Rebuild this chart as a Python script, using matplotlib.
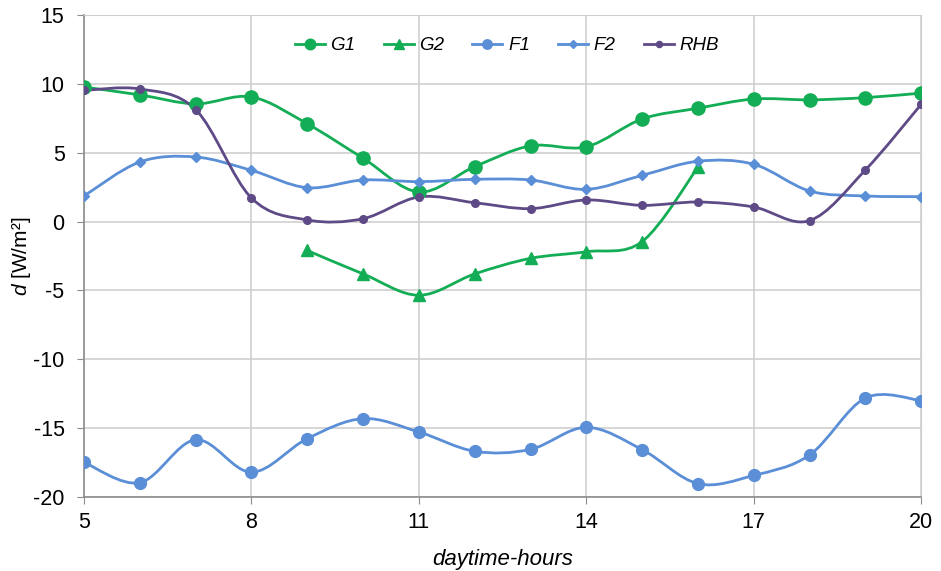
import numpy as np
import matplotlib
matplotlib.use('Agg')
import matplotlib.pyplot as plt
from matplotlib.path import Path
from matplotlib.patches import PathPatch
from matplotlib.lines import Line2D

plt.rcParams['font.family'] = ['Liberation Sans', 'DejaVu Sans']
plt.rcParams['mathtext.fontset'] = 'custom'
plt.rcParams['mathtext.it'] = 'Liberation Sans:italic'
plt.rcParams['mathtext.rm'] = 'Liberation Sans'
plt.rcParams['axes.unicode_minus'] = False

hours = [5, 6, 7, 8, 9, 10, 11, 12, 13, 14, 15, 16, 17, 18, 19, 20]
g1 = [9.77, 9.2, 8.55, 9.05, 7.1, 4.6, 2.15, 3.99, 5.5, 5.43, 7.45, 8.23, 8.9, 8.84, 9.0, 9.33]
g2_hours = [9, 10, 11, 12, 13, 14, 15, 16]
g2 = [-2.1, -3.8, -5.35, -3.8, -2.67, -2.19, -1.45, 3.95]
f1 = [-17.48, -18.96, -15.84, -18.2, -15.76, -14.31, -15.28, -16.68,
      -16.54, -14.94, -16.56, -19.03, -18.43, -16.95, -12.81, -13.0]
f2 = [1.86, 4.33, 4.69, 3.72, 2.46, 3.02, 2.9, 3.07, 3.02, 2.34, 3.36, 4.38, 4.16, 2.22, 1.86, 1.81]
rhb = [9.53, 9.63, 8.13, 1.71, 0.12, 0.21, 1.79, 1.37, 0.94, 1.57, 1.18, 1.42, 1.06, 0.07, 3.75, 8.52]

GREEN = '#13AD55'
BLUE = '#5A8ED6'
PURPLE = '#5E4A86'


def smooth_path(x, y):
    # excel-style smoothed line: cubic bezier through every point
    p = np.column_stack([x, y]).astype(float)
    ext = np.vstack([p[0], p, p[-1]])
    verts = [p[0]]
    codes = [Path.MOVETO]
    for i in range(len(p) - 1):
        c1 = ext[i + 1] + (ext[i + 2] - ext[i]) / 6
        c2 = ext[i + 2] - (ext[i + 3] - ext[i + 1]) / 6
        verts += [c1, c2, p[i + 1]]
        codes += [Path.CURVE4] * 3
    return Path(verts, codes)


fig = plt.figure(figsize=(9.41, 5.71), dpi=100)
ax = fig.add_axes([0.0893, 0.1296, 0.8897, 0.8441])

series = [
    ('G1', hours, g1, GREEN, 'o', 9.5),
    ('G2', g2_hours, g2, GREEN, '^', 9),
    ('F1', hours, f1, BLUE, 'o', 8.5),
    ('F2', hours, f2, BLUE, 'D', 5.5),
    ('RHB', hours, rhb, PURPLE, 'o', 5.5),
]

handles = []
for name, xs, ys, col, mk, ms in series:
    ax.add_patch(PathPatch(smooth_path(xs, ys), facecolor='none', edgecolor=col, lw=2, zorder=3))
    ax.plot(xs, ys, linestyle='none', marker=mk, markersize=ms, color=col, zorder=4)
    handles.append(Line2D([], [], color=col, lw=2, marker=mk, markersize=ms * 0.8, label=name))

ax.set_xlim(5, 20)
ax.set_ylim(-20, 15)
ax.set_xticks(range(5, 21, 3))
ax.set_yticks(range(-20, 16, 5))
ax.grid(True, color='#CFCFCF', lw=1.2)
ax.set_axisbelow(True)
for s in ['top', 'right']:
    ax.spines[s].set_color('#CFCFCF')
for s in ['left', 'bottom']:
    ax.spines[s].set_color('#8C8C8C')
    ax.spines[s].set_linewidth(1.2)
ax.tick_params(length=5, color='#8C8C8C', labelsize=15.5, pad=6)
ax.tick_params(axis='y', pad=9)

ax.set_xlabel('daytime-hours', fontsize=16, style='italic', labelpad=11)
ax.set_ylabel(r'$\mathit{d}$ [W/m²]', fontsize=15, labelpad=0)

ax.legend(handles=handles, loc='center', bbox_to_anchor=(0.505, 0.936), ncol=5,
          frameon=False, prop={'style': 'italic', 'size': 13.5}, handlelength=1.6,
          columnspacing=1.5, handletextpad=0.3)

fig.savefig('out.png', dpi=100)
